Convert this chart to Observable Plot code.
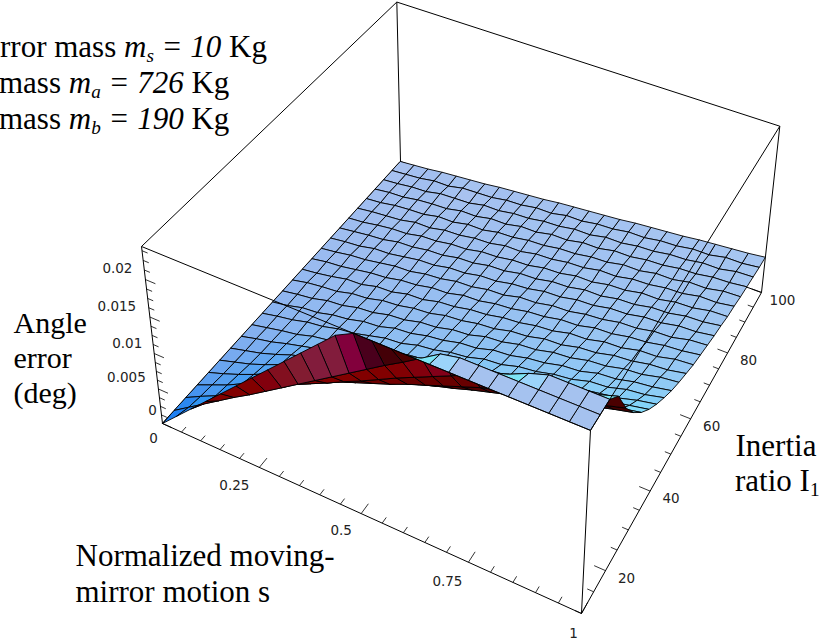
<!DOCTYPE html>
<html><head><meta charset="utf-8">
<script src="https://cdn.jsdelivr.net/npm/d3@7"></script>
<script src="https://cdn.jsdelivr.net/npm/@observablehq/plot@0.6"></script>
<style>
html,body{margin:0;padding:0;background:#fff;overflow:hidden}
#wrap{position:relative;width:823px;height:643px;overflow:hidden}
.note{position:absolute;font-family:"Liberation Serif",serif;font-size:31px;line-height:36px;white-space:nowrap;color:#000}
.note sub{font-size:62%;line-height:0;vertical-align:-.25em}
</style></head><body><div id="wrap"></div>
<script>
// s: normalized moving-mirror motion, I: inertia ratio, z: angle error (deg)
const sGrid = d3.range(25).map(k => k / 24);
const iGrid = d3.range(25).map(j => 10 + j * 3.75);
const zTop = 0.0243;
// angle error in units of 1e-4 deg, one row per inertia ratio (front to back), clipped at the top of the box
const zRows = [
[0,21,42,63,84,105,126,147,168,189,210,231,243,243,243,243,243,243,243,243,243,243,243,243,243],
[0,15,30,45,60,74,89,104,119,134,149,164,179,194,208,223,238,243,243,243,243,243,243,243,243],
[0,12,23,37,52,65,78,90,101,112,124,135,147,159,170,181,192,203,214,224,235,243,243,243,243],
[0,10,20,32,44,55,65,76,85,95,104,113,122,132,141,150,159,168,176,185,193,202,210,220,228],
[0,8,17,27,38,47,56,66,74,82,90,97,105,113,121,128,136,143,150,158,165,172,179,187,194],
[0,7,14,23,33,41,49,57,64,71,78,85,92,100,107,113,120,126,132,138,144,150,156,163,169],
[0,6,12,20,29,36,43,51,57,63,70,77,83,89,95,101,107,112,117,123,128,133,138,145,150],
[0,6,11,18,24,30,37,42,48,55,60,65,71,78,82,88,94,98,103,110,114,118,125,130,135],
[0,5,10,14,21,25,31,37,40,46,52,55,62,65,72,78,81,87,93,96,103,107,111,118,123],
[0,5,9,15,18,24,27,33,39,41,48,51,57,60,67,69,76,79,85,88,95,97,104,107,113],
[0,4,10,12,18,21,27,29,36,38,44,47,53,55,62,64,70,73,79,81,88,90,96,99,104],
[0,4,7,13,15,21,23,29,31,37,39,45,47,54,56,62,64,70,72,78,80,86,88,94,97],
[0,5,8,10,16,18,24,26,31,33,39,41,46,48,54,56,62,63,69,71,77,79,84,86,91],
[0,3,7,12,13,19,20,26,27,33,35,40,42,47,49,54,56,62,63,69,70,76,77,83,85],
[0,4,6,10,14,16,21,23,28,29,35,36,41,43,48,50,55,56,62,63,68,70,75,77,81],
[0,3,7,9,13,17,18,23,25,30,31,36,37,43,44,49,50,55,57,62,63,68,69,75,77],
[0,3,5,10,11,15,19,20,25,26,31,32,37,39,44,45,50,51,56,57,62,63,68,69,73],
[0,3,6,8,13,14,18,19,24,25,30,31,36,37,42,43,48,48,53,54,59,60,65,66,70],
[0,2,6,9,10,15,16,20,21,26,27,31,32,37,38,43,43,48,49,54,54,59,60,65,66],
[0,3,5,7,12,12,17,18,22,23,28,28,33,34,38,39,44,44,49,50,54,55,60,60,64],
[0,2,6,8,9,14,14,19,19,24,25,29,30,34,35,39,40,45,45,50,50,55,55,60,61],
[0,3,4,8,10,11,16,16,21,21,26,26,31,31,36,36,41,41,45,46,50,51,55,56,59],
[0,2,5,6,11,12,13,18,18,22,23,27,28,32,32,37,37,41,42,46,47,51,51,56,57],
[0,2,4,8,8,13,14,15,19,20,24,24,29,29,33,34,38,38,42,43,47,47,52,52,55],
[0,2,4,7,9,11,13,16,18,20,22,25,27,29,31,33,36,38,40,42,45,47,49,51,54]
];
const sTicks = d3.range(0, 21).map(k => k * 0.05);
const iTicks = d3.range(10, 101, 5);
const zTicks = d3.range(0, 20).map(k => k * 0.00125);
const sLabels = [["0",0],["0.25",0.25],["0.5",0.5],["0.75",0.75],["1",1]];
const iLabels = [["20",20],["40",40],["60",60],["80",80],["100",100]];
const zLabels = [["0",0],["0.005",0.005],["0.01",0.01],["0.015",0.015],["0.02",0.02]];

// fixed perspective camera of the view box
const cam = [[361.92,321.86,-30.13,162],[129.78,-228.25,-192.97,423],[-0.09824,0.20965,-0.0648,1]];
function proj(s, I, z){
  const t=(I-10)/90, h=z/zTop, v=[s,t,h,1];
  const d=r=>r[0]*v[0]+r[1]*v[1]+r[2]*v[2]+r[3];
  const w=d(cam[2]);
  return {x:d(cam[0])/w, y:d(cam[1])/w, w};
}
const clamp=(v,a=0,b=1)=>Math.max(a,Math.min(b,v));
function shade(c, under){
  const u=c.gs, v=Math.max(0,-c.gt);
  if(under){
    const r=45+85*clamp((u-.5)/.7);
    const g=30*clamp((u-1.4)/.4)*clamp((v-4)/1);
    const b=60*clamp((v-3.5)/2)*clamp((u-.5)/.5);
    return `rgb(${r|0},${g|0},${b|0})`;
  }
  if(c.flat) return "rgb(165,194,239)";
  if(c.touch) return v>1.2 ? "rgb(125,228,245)" : "rgb(155,212,250)";
  const r=clamp(190-110*u,30,190);
  const g=clamp(205-55*u+30*v,128,238);
  return `rgb(${r|0},${g|0},${clamp(240+8*v,240,255)|0})`;
}
const zAt=(j,k)=>zRows[j][k]/1e4;
// surface slope of a cell, softened over its neighbours on the gently rolling part of the sheet
function slopes(j,k){
  const local=[((zAt(j,k+1)-zAt(j,k))+(zAt(j+1,k+1)-zAt(j+1,k)))/2,((zAt(j+1,k)-zAt(j,k))+(zAt(j+1,k+1)-zAt(j,k+1)))/2];
  if(j<4) return local.map(v=>v/zTop*24);
  const k0=Math.max(0,k-1),k1=Math.min(24,k+2),j0=j-1,j1=Math.min(24,j+2);
  const wideS=((zAt(j,k1)-zAt(j,k0))+(zAt(j+1,k1)-zAt(j+1,k0)))/2/(k1-k0);
  const wideT=((zAt(j1,k)-zAt(j0,k))+(zAt(j1,k+1)-zAt(j0,k+1)))/2/(j1-j0);
  return [(.75*wideS+.25*local[0])/zTop*24,(.75*wideT+.25*local[1])/zTop*24];
}
// surface cells, painted from far to near
const cells=[];
for(let j=0;j<24;j++)for(let k=0;k<24;k++){
  const c=[[k,j],[k+1,j],[k+1,j+1],[k,j+1]];
  const Z=c.map(([a,b])=>zAt(b,a));
  const P=c.map(([a,b],n)=>proj(sGrid[a],iGrid[b],Z[n]));
  let area=0;
  for(let n=0;n<4;n++){const p=P[n],q=P[(n+1)%4];area+=p.x*q.y-q.x*p.y;}
  const [gs,gt]=slopes(j,k);
  cells.push({id:j*24+k,P,depth:d3.mean(P,p=>p.w),
    fill:shade({gs,gt,flat:Z.every(z=>z>=zTop),touch:Z.some(z=>z>=zTop)},area>0)});
}
cells.sort((a,b)=>b.depth-a.depth);
const polys=cells.flatMap(c=>c.P.map(p=>({cell:c.id,x:p.x,y:p.y,fill:c.fill})));

const edge=(a,b)=>{const p=proj(...a),q=proj(...b);return {x1:p.x,y1:p.y,x2:q.x,y2:q.y};};
const backEdges=[
 [[0,10,0],[0,100,0]],[[0,100,0],[1,100,0]],[[0,100,0],[0,100,zTop]],
 [[0,10,zTop],[0,100,zTop]],[[0,100,zTop],[1,100,zTop]],[[1,100,0],[1,100,zTop]]
].map(e=>edge(...e));
const frontEdges=[
 [[0,10,0],[0,10,zTop]],[[0,10,0],[1,10,0]],[[1,10,0],[1,100,0]],[[1,10,0],[1,10,zTop]],
 [[0,10,zTop],[1,10,zTop]],[[1,10,zTop],[1,100,zTop]]
].map(e=>edge(...e));
const near=(a,b)=>Math.abs(a-b)<1e-9;
const ticks=[
 ...sTicks.map(s=>edge([s,10,0],[s,10+90*(near(s*4,Math.round(s*4))?.028:.016),0])),
 ...iTicks.map(i=>edge([1,i,0],[1-(i%20===0?.025:.014),i,0])),
 ...zTicks.map(z=>edge([0,10,z],[(near(z/.005,Math.round(z/.005))?.025:.014),10,z]))
];
const labelRow=(label,p,dx,dy)=>({label,x:p.x+dx,y:p.y+dy});
const sOff=[[-9,15],[-25,18],[-20,17],[-21,19],[-8,20]];
const zOff=[[-10,-13],[-32,-11.5],[-27,-10],[-33,-10],[-28,-11]];
const tickText=[
 ...sLabels.map(([l,s],n)=>labelRow(l,proj(s,10,0),...sOff[n])),
 ...iLabels.map(([l,i])=>labelRow(l,proj(1,i,0),21,8)),
 ...zLabels.map(([l,z],n)=>labelRow(l,proj(0,10,z),...zOff[n]))
];
const titles=[
 {text:"Normalized moving-",x:75,y:565},{text:"mirror motion s",x:75,y:601},
 {text:"Inertia",x:735,y:455}
];
const sideTitle=[
 {text:"Angle",x:13,y:332},{text:"error",x:13,y:367},{text:"(deg)",x:13,y:402}
];
const chart=Plot.plot({
  width:823,height:643,margin:0,
  x:{domain:[0,823],range:[0,823],axis:null},
  y:{domain:[0,643],range:[0,643],axis:null},
  color:{type:"identity"},
  marks:[
    Plot.link(backEdges,{x1:"x1",y1:"y1",x2:"x2",y2:"y2",stroke:"#000",strokeWidth:1}),
    Plot.line(polys,{x:"x",y:"y",z:"cell",fill:"fill",stroke:"#000",strokeWidth:.9,curve:"linear-closed"}),
    Plot.link(frontEdges,{x1:"x1",y1:"y1",x2:"x2",y2:"y2",stroke:"#000",strokeWidth:1}),
    Plot.link(ticks,{x1:"x1",y1:"y1",x2:"x2",y2:"y2",stroke:"#000",strokeWidth:.8}),
    Plot.text(tickText,{x:"x",y:"y",text:"label",fontFamily:"DejaVu Sans",fontSize:13.5,fill:"#222",letterSpacing:"-0.9px"}),
    Plot.text(titles,{x:"x",y:"y",text:"text",textAnchor:"start",lineAnchor:"bottom",fontFamily:"Liberation Serif",fontSize:31,fill:"#000"}),
    Plot.text(sideTitle,{x:"x",y:"y",text:"text",textAnchor:"start",lineAnchor:"bottom",fontFamily:"Liberation Serif",fontSize:30,fill:"#000"})
  ]
});
const wrap=document.getElementById("wrap");
wrap.appendChild(chart);
const notes=[
 [0,29,'rror mass <i>m<sub>s</sub> = 10</i> Kg'],
 [-1,65,'mass <i>m<sub>a</sub> = 726</i> Kg'],
 [-1,101,'mass <i>m<sub>b</sub> = 190</i> Kg'],
 [735,463,'ratio I<sub>1</sub>']
];
for(const [x,y,html] of notes){
  const d=document.createElement("div");d.className="note";d.style.left=x+"px";d.style.top=y+"px";d.innerHTML=html;wrap.appendChild(d);
}
</script></body></html>
